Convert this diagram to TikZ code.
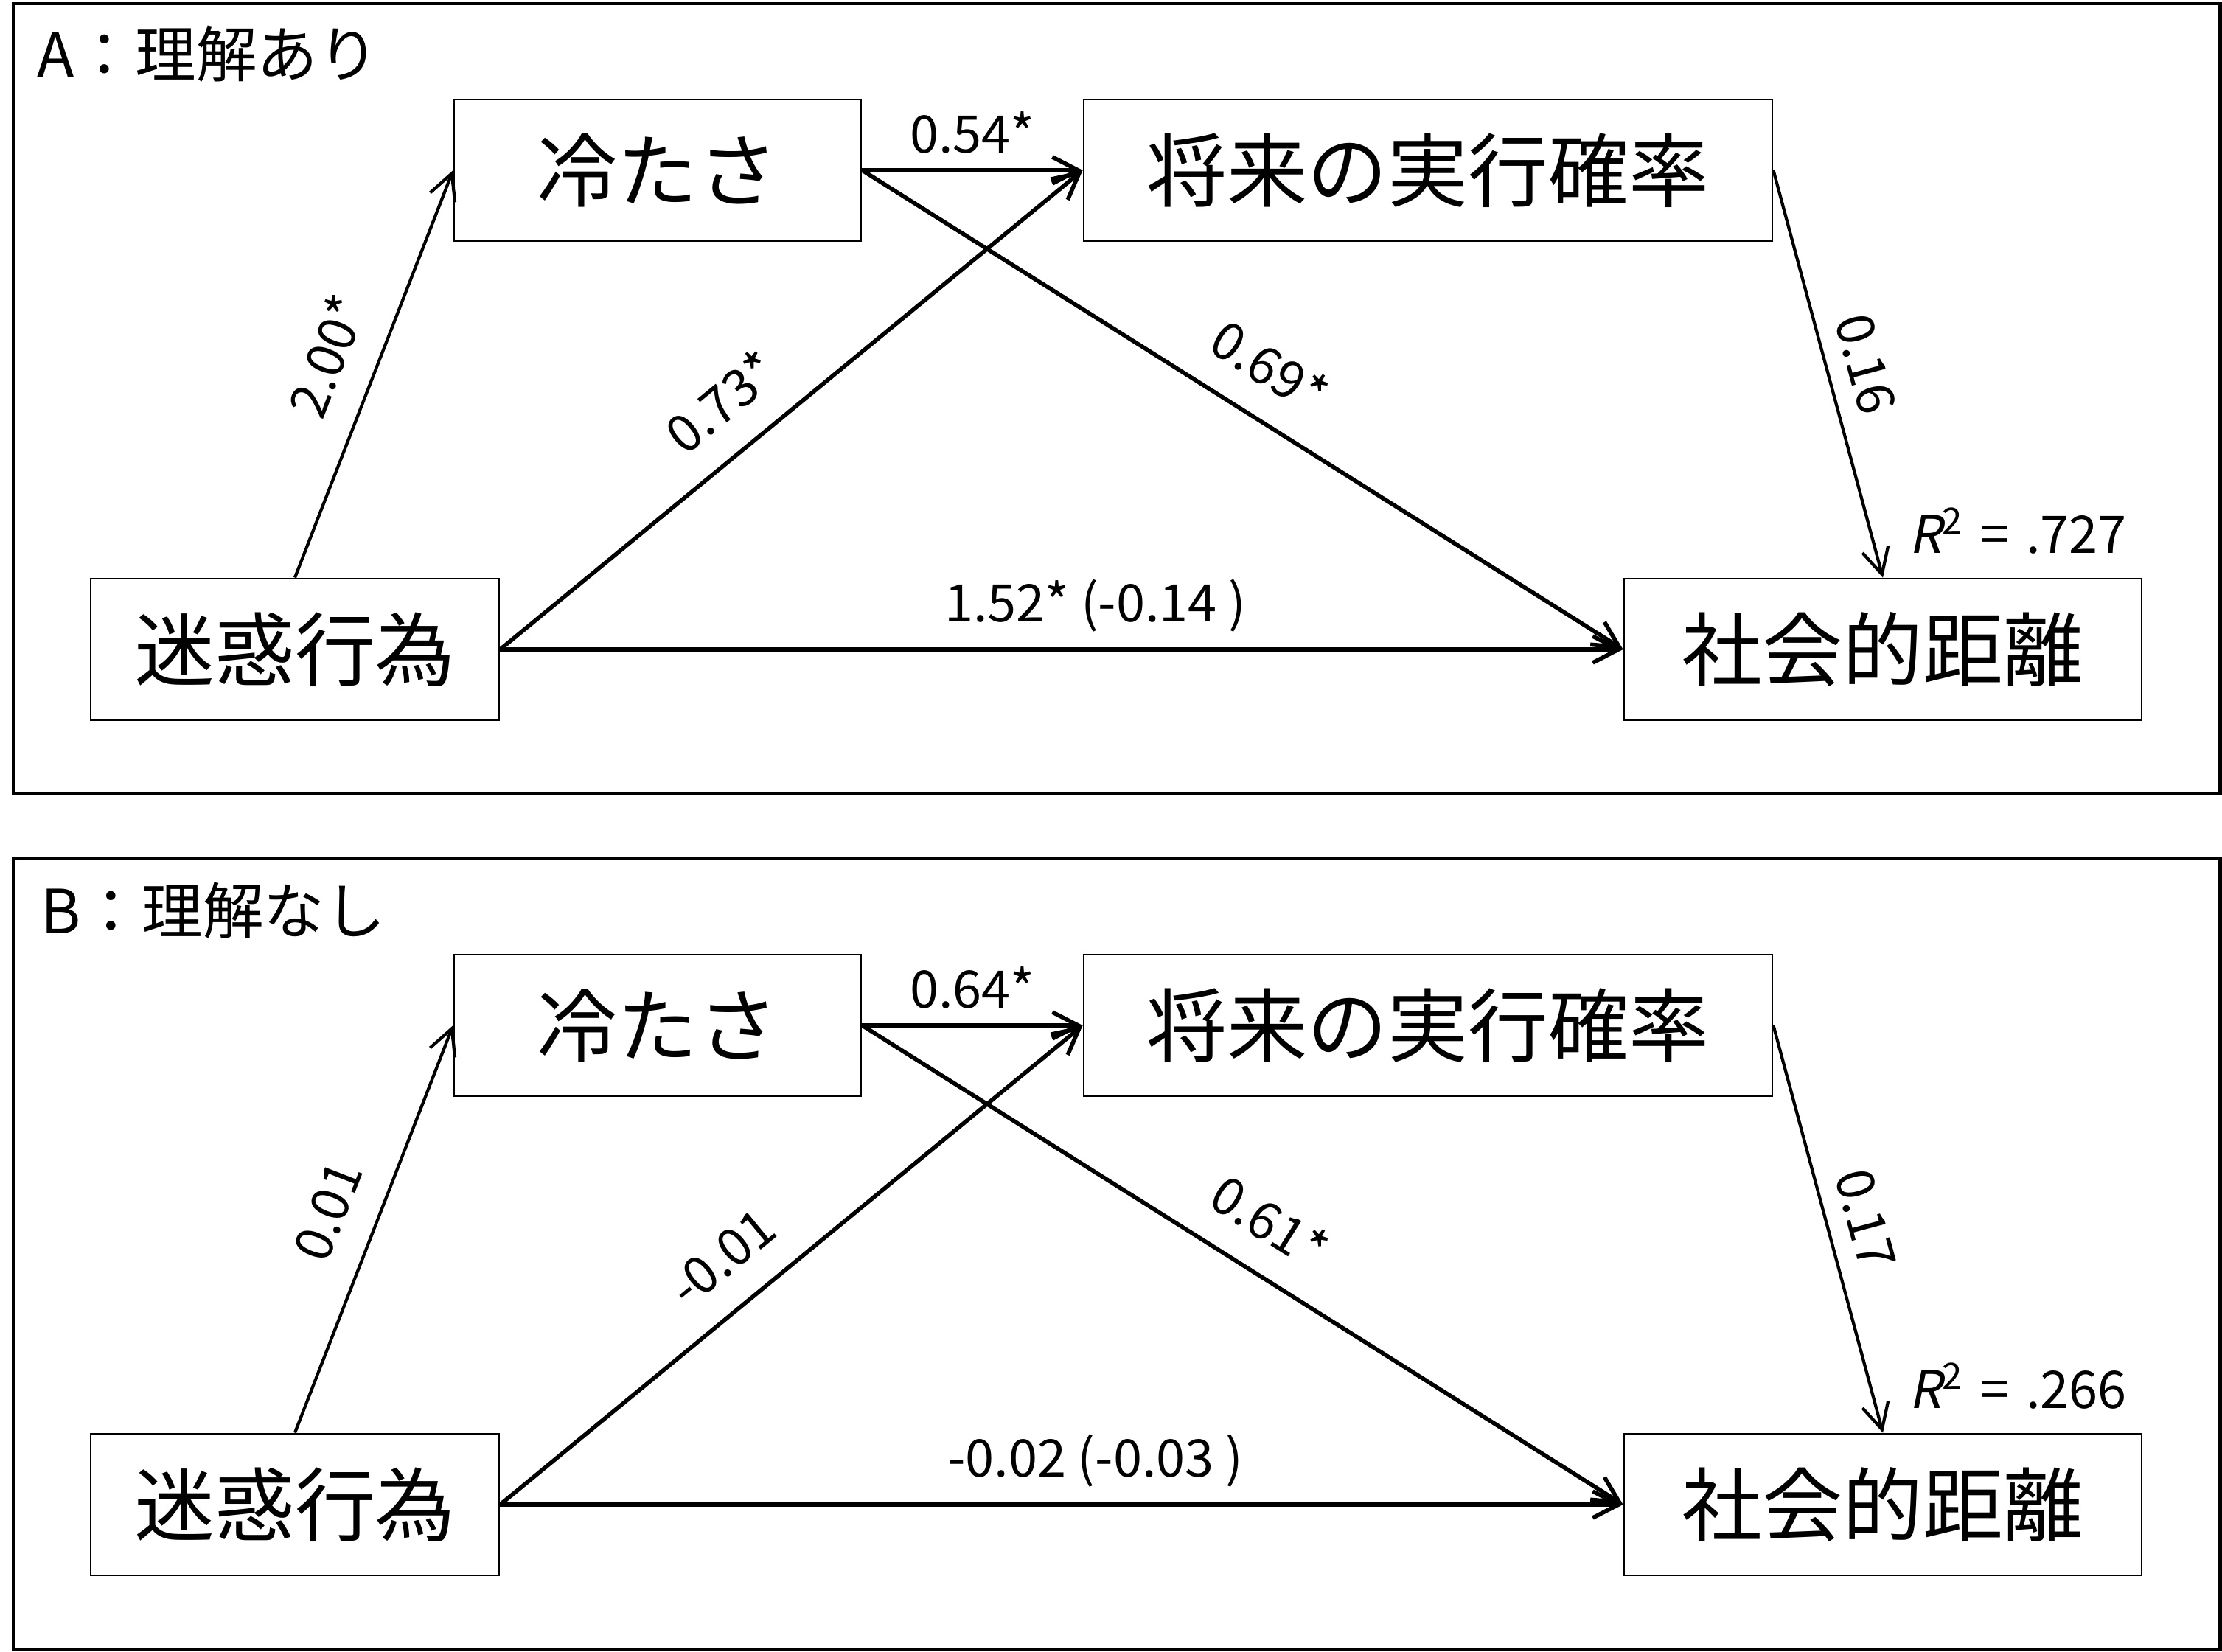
\documentclass[tikz,border=0pt]{standalone}
\usepackage{fontspec}
\setmainfont{Noto Sans CJK JP}[AutoFakeSlant=0.2]
\usetikzlibrary{positioning,arrows.meta,calc}

\begin{document}
\begin{tikzpicture}[
  varbox/.style={draw, line width=0.8pt, minimum height=1.92cm, inner sep=0pt,
    font=\fontsize{31}{31}\selectfont},
  effect/.style={line width=1.6pt, -{Straight Barb[length=3.5mm,width=3.6mm]}},
  thineffect/.style={effect, line width=1.2pt},
  coef/.style={font=\fontsize{20}{20}\selectfont, inner sep=3pt},
  panel/.style={line width=1.4pt},
  paneltitle/.style={font=\fontsize{23.5}{23.5}\selectfont, anchor=base west, inner sep=0pt},
  fitlabel/.style={font=\fontsize{20}{20}\selectfont, anchor=base west, inner sep=0pt}
]
  \useasboundingbox (0,0) rectangle (30.14,22.40);

  % Panel A (with understanding)
  \begin{scope}
    \draw[panel] (0.18,11.64) rectangle (30.11,22.35);
    \node[paneltitle] (titleA) at (0.50,21.35) {A：理解あり};
    \node[varbox, minimum width=5.52cm] (coldA) at (8.92,20.09) {冷たさ};
    \node[varbox, minimum width=9.34cm] (futureA) at (19.37,20.09) {将来の実行確率};
    \node[varbox, minimum width=5.54cm] (annoyA) at (4.00,13.59) {迷惑行為};
    \node[varbox, minimum width=7.02cm] (distA) at (25.54,13.59) {社会的距離};
    \draw[thineffect] (annoyA.north) -- node[coef, sloped, above=8pt] {2.00*} (coldA.west);
    \draw[effect] (annoyA.east) -- node[coef, sloped, above=8pt, pos=0.435] {0.73*} (futureA.west);
    \draw[effect] (annoyA.east) -- node[coef, above=3pt, pos=0.53] {1.52* (-0.14 )} (distA.west);
    \draw[effect] (coldA.east) -- node[coef, above=2.5pt] {0.54*} (futureA.west);
    \draw[effect] (coldA.east) -- node[coef, sloped, above=8pt] {0.69*} (distA.west);
    \draw[thineffect] (futureA.east) -- node[coef, sloped, above=4pt] {0.16} (distA.north);
    \node[fitlabel] (r2A) at ([xshift=0.35cm, yshift=0.33cm]distA.north) {{\itshape R}\textsuperscript{2}\hspace{0.1em} = \hspace{0.1em}.727};
  \end{scope}

  % Panel B (without understanding)
  \begin{scope}[yshift=-11.6cm]
    \draw[panel] (0.18,11.63) rectangle (30.11,22.35);
    \node[paneltitle] (titleB) at (0.55,21.33) {B：理解なし};
    \node[varbox, minimum width=5.52cm] (coldB) at (8.92,20.09) {冷たさ};
    \node[varbox, minimum width=9.34cm] (futureB) at (19.37,20.09) {将来の実行確率};
    \node[varbox, minimum width=5.54cm] (annoyB) at (4.00,13.59) {迷惑行為};
    \node[varbox, minimum width=7.02cm] (distB) at (25.54,13.59) {社会的距離};
    \draw[thineffect] (annoyB.north) -- node[coef, sloped, above=8pt] {0.01} (coldB.west);
    \draw[effect] (annoyB.east) -- node[coef, sloped, above=8pt, pos=0.435] {-0.01} (futureB.west);
    \draw[effect] (annoyB.east) -- node[coef, above=3pt, pos=0.53] {-0.02 (-0.03 )} (distB.west);
    \draw[effect] (coldB.east) -- node[coef, above=2.5pt] {0.64*} (futureB.west);
    \draw[effect] (coldB.east) -- node[coef, sloped, above=8pt] {0.61*} (distB.west);
    \draw[thineffect] (futureB.east) -- node[coef, sloped, above=4pt] {0.17} (distB.north);
    \node[fitlabel] (r2B) at ([xshift=0.35cm, yshift=0.33cm]distB.north) {{\itshape R}\textsuperscript{2}\hspace{0.1em} = \hspace{0.1em}.266};
  \end{scope}
\end{tikzpicture}
\end{document}
